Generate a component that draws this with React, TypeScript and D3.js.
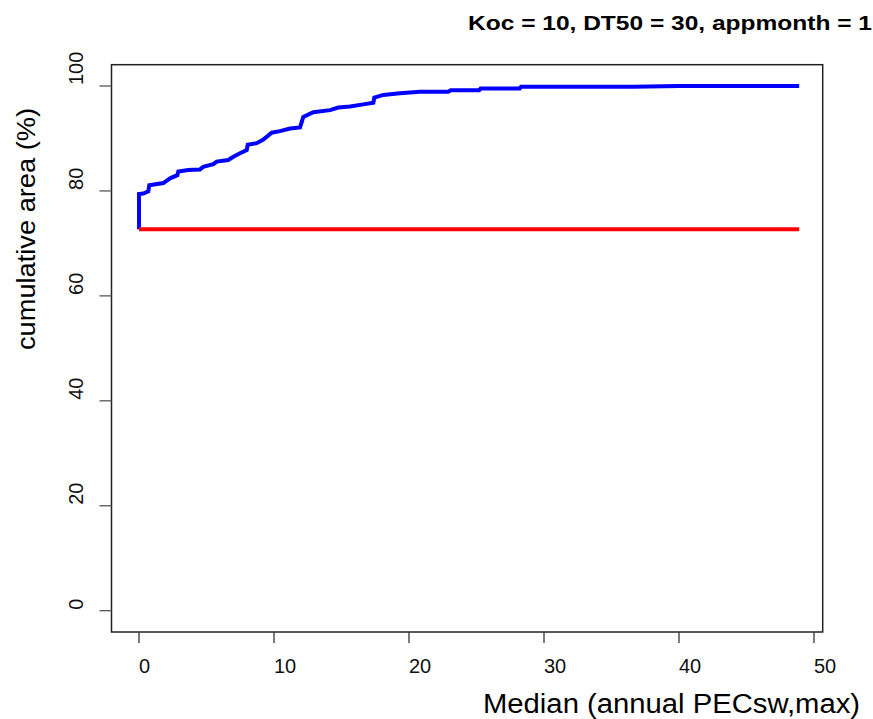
import { useRef, useEffect } from 'react'
import * as d3 from 'd3'

// cumulative area curve (blue)
const blueX = [0, 0, 0.32, 0.69, 0.76, 1.8, 2.3, 2.84, 2.91, 3.65, 4.52, 4.76, 5.5, 5.76, 6.61, 6.99, 7.48, 7.98, 8.05, 8.72, 9.21, 9.83, 10.44, 11.19, 11.93, 12.17, 12.91, 14.15, 14.76, 15.63, 16.61, 17.36, 17.43, 18.1, 19.33, 20.81, 22.9, 23.1, 25.2, 25.3, 28.2, 28.3, 36.6, 40.0, 48.9]
const blueY = [72.7, 79.4, 79.5, 79.9, 81.1, 81.5, 82.4, 83.0, 83.7, 84.0, 84.1, 84.6, 85.1, 85.6, 85.9, 86.5, 87.2, 87.8, 88.8, 89.1, 89.8, 91.1, 91.4, 91.9, 92.1, 94.1, 95.0, 95.4, 95.9, 96.1, 96.5, 96.8, 97.8, 98.3, 98.6, 98.9, 98.9, 99.2, 99.2, 99.5, 99.5, 99.85, 99.85, 100, 100]

// reference level (red)
const redX = [0, 48.9]
const redY = [72.7, 72.7]

const xTicks = [0, 10, 20, 30, 40, 50]
const yTicks = [0, 20, 40, 60, 80, 100]

const title = 'Koc = 10, DT50 = 30, appmonth = 1'
const xLabel = 'Median (annual PECsw,max)'
const yLabel = 'cumulative area (%)'

const W = 873
const H = 719
const font = "'Liberation Sans', Arial, Helvetica, sans-serif"

export default function App() {
  const svgRef = useRef<SVGSVGElement>(null)

  useEffect(() => {
    if (!svgRef.current) return
    const svg = d3.select(svgRef.current)
    svg.selectAll('*').remove()

    const box = { left: 111.5, right: 822.7, top: 64.7, bottom: 632 }

    const x = d3.scaleLinear().domain([0, 50]).range([139, 814])
    const y = d3.scaleLinear().domain([0, 100]).range([610.7, 86])

    svg.append('rect').attr('width', W).attr('height', H).attr('fill', '#fff')

    // plot frame
    svg.append('rect')
      .attr('x', box.left)
      .attr('y', box.top)
      .attr('width', box.right - box.left)
      .attr('height', box.bottom - box.top)
      .attr('fill', 'none')
      .attr('stroke', '#222')
      .attr('stroke-width', 1.5)

    // x axis
    const xa = svg.append('g')
    xa.selectAll('line')
      .data(xTicks)
      .join('line')
      .attr('x1', d => x(d)).attr('x2', d => x(d))
      .attr('y1', box.bottom).attr('y2', box.bottom + 11)
      .attr('stroke', '#333').attr('stroke-width', 1.3)
    xa.selectAll('text')
      .data(xTicks)
      .join('text')
      .attr('x', d => x(d))
      .attr('y', 673)
      .attr('font-size', 20)
      .attr('font-family', font)
      .attr('fill', '#111')
      .text(d => d)

    // y axis
    const ya = svg.append('g')
    ya.selectAll('line')
      .data(yTicks)
      .join('line')
      .attr('x1', box.left - 12).attr('x2', box.left)
      .attr('y1', d => y(d)).attr('y2', d => y(d))
      .attr('stroke', '#555').attr('stroke-width', 1.3)
    ya.selectAll('text')
      .data(yTicks)
      .join('text')
      .attr('transform', d => `translate(83,${y(d) - 1}) rotate(-90)`)
      .attr('font-size', 20)
      .attr('font-family', font)
      .attr('fill', '#111')
      .text(d => d)

    // lines
    const line = d3.line<number>()
      .x(i => x(blueX[i]))
      .y(i => y(blueY[i]))
    svg.append('path')
      .attr('d', line(d3.range(blueX.length)))
      .attr('fill', 'none')
      .attr('stroke', '#0000ff')
      .attr('stroke-width', 4)
      .attr('stroke-linejoin', 'miter')

    const redLine = d3.line<number>()
      .x(i => x(redX[i]))
      .y(i => y(redY[i]))
    svg.append('path')
      .attr('d', redLine(d3.range(redX.length)))
      .attr('fill', 'none')
      .attr('stroke', '#ff0000')
      .attr('stroke-width', 4)

    // titles
    svg.append('text')
      .attr('x', 468)
      .attr('y', 30)
      .attr('font-size', 20)
      .attr('font-weight', 'bold')
      .attr('font-family', font)
      .attr('textLength', 404)
      .attr('lengthAdjust', 'spacingAndGlyphs')
      .text(title)

    svg.append('text')
      .attr('x', 483)
      .attr('y', 713)
      .attr('font-size', 27)
      .attr('font-family', font)
      .attr('textLength', 377)
      .attr('lengthAdjust', 'spacingAndGlyphs')
      .text(xLabel)

    svg.append('text')
      .attr('transform', 'translate(35,229) rotate(-90)')
      .attr('text-anchor', 'middle')
      .attr('font-size', 26)
      .attr('font-family', font)
      .attr('textLength', 242)
      .attr('lengthAdjust', 'spacingAndGlyphs')
      .text(yLabel)
  }, [])

  return (
    <svg
      ref={svgRef}
      width={W}
      height={H}
      style={{ position: 'absolute', left: 0, top: 0 }}
    />
  )
}
